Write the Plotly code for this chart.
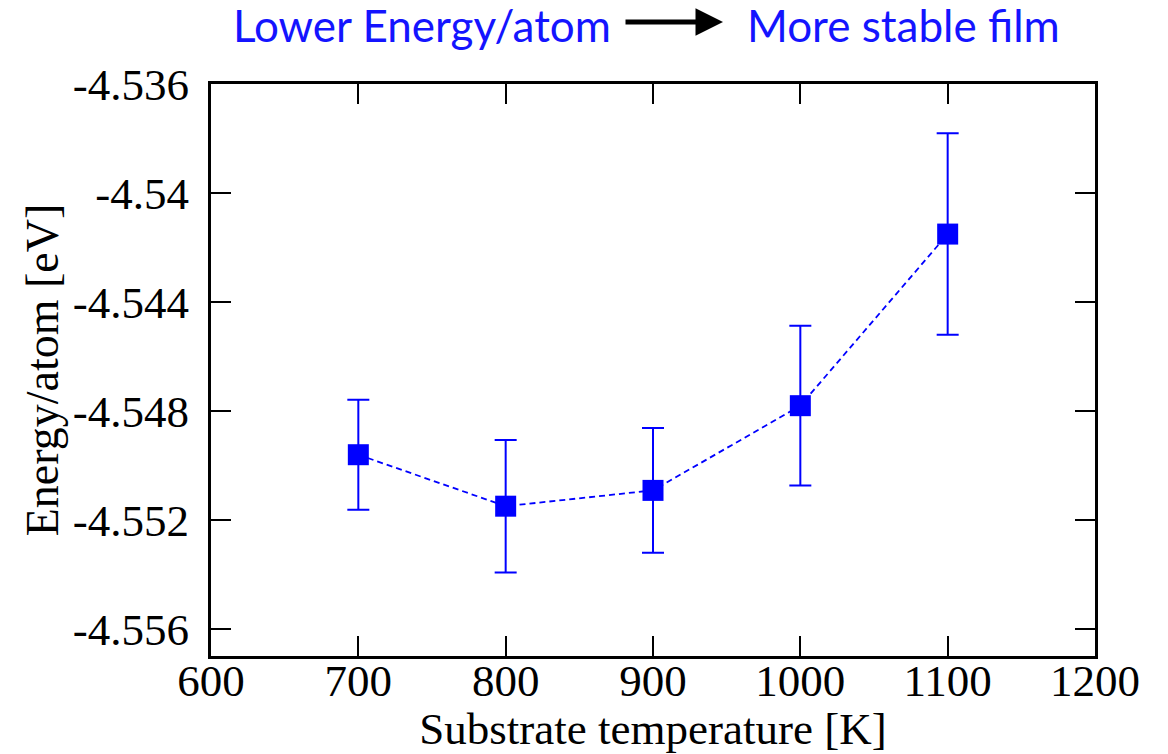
import plotly.graph_objects as go

temperature = [700, 800, 900, 1000, 1100]
energy = [-4.54961, -4.55150, -4.55092, -4.54781, -4.54151]
energy_err = [0.00202, 0.00243, 0.00229, 0.00293, 0.00370]

x_ticks = [600, 700, 800, 900, 1000, 1100, 1200]
x_ticktext = ["600", "700", "800", "900", "1000", "1100", "1200"]
y_ticks = [-4.556, -4.552, -4.548, -4.544, -4.540, -4.536]
y_ticktext = ["-4.556", "-4.552", "-4.548", "-4.544", "-4.54", "-4.536"]

serif = "Liberation Serif"
BLUE = "#0000ff"

fig = go.Figure()
fig.add_trace(go.Scatter(
    x=temperature, y=energy,
    mode="lines+markers",
    line=dict(color=BLUE, width=1.8, dash="6px,4px"),
    marker=dict(symbol="square", size=21, color=BLUE),
    error_y=dict(type="data", array=energy_err, visible=True,
                 color=BLUE, thickness=2, width=11),
    showlegend=False,
))

axis_common = dict(
    showline=True, linewidth=3, linecolor="black", mirror="ticks",
    ticks="inside", ticklen=20, tickwidth=1.5, tickcolor="black",
    showgrid=False, zeroline=False, automargin=False,
    tickfont=dict(family=serif, size=45, color="black"),
)

fig.update_xaxes(range=[600, 1200], tickvals=x_ticks, ticktext=x_ticktext,
                 ticklabelstandoff=-17,
                 title=dict(text="Substrate temperature [K]",
                            font=dict(family=serif, size=45, color="black"),
                            standoff=1),
                 **axis_common)
fig.update_yaxes(range=[-4.557, -4.536], tickvals=y_ticks, ticktext=y_ticktext,
                 ticklabelstandoff=10,
                 title=dict(text="Energy/atom [eV]",
                            font=dict(family=serif, size=46, color="black"),
                            standoff=0),
                 **axis_common)

title_font = dict(family="Lato", size=44, color="#1414ff")
fig.add_annotation(text="Lower Energy/atom", xref="paper", yref="paper",
                   x=(231 - 211) / 884, y=(656 - 25) / 572,
                   xanchor="left", yanchor="middle", showarrow=False,
                   font=title_font)
fig.add_annotation(text="More stable film", xref="paper", yref="paper",
                   x=(745 - 211) / 884, y=(656 - 25) / 572,
                   xanchor="left", yanchor="middle", showarrow=False,
                   font=title_font)
fig.add_annotation(text="", xref="paper", yref="paper",
                   x=(723 - 211) / 884, y=(656 - 22) / 572,
                   ax=-99, ay=0, showarrow=True,
                   arrowhead=2, arrowsize=1.1, arrowwidth=5, arrowcolor="black")

fig.update_layout(
    width=1168, height=754,
    margin=dict(l=211, r=73, t=84, b=98),
    paper_bgcolor="white", plot_bgcolor="white",
)

fig.write_html("out.html")
